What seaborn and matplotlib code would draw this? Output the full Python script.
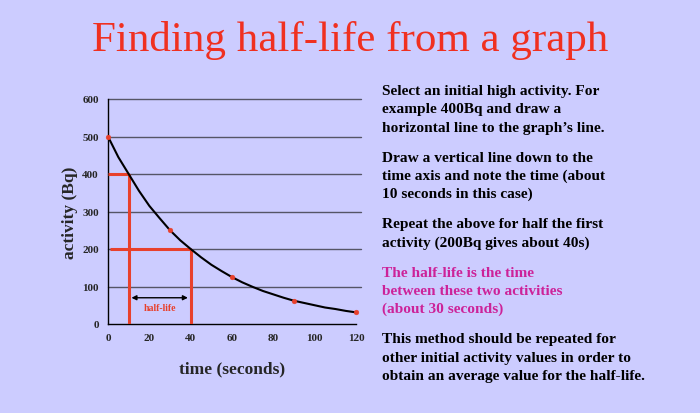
import matplotlib
matplotlib.use("Agg")
import matplotlib.pyplot as plt
import seaborn as sns
import pandas as pd

# data
time_s = [0, 5, 10, 15, 20, 25, 30, 35, 40, 45, 50, 55, 60, 65, 70, 75, 80,
          85, 90, 95, 100, 105, 110, 115, 120]
activity = [500, 445, 400, 355, 315, 282, 250, 223, 200, 178, 158, 141, 125,
            111, 99, 88, 79, 70, 62, 56, 50, 44, 40, 35, 31]
meas_time = [0, 30, 60, 90, 120]
meas_act = [500, 250, 125, 62.5, 31]
x_ticks = [0, 20, 40, 60, 80, 100, 120]
y_ticks = [0, 100, 200, 300, 400, 500, 600]
first_act, first_t = 400, 10
second_act, second_t = 200, 40

BG = "#CCCCFF"
RED = "#E8402C"
sns.set_style("white")
plt.rcParams['font.family'] = ['Liberation Serif', 'DejaVu Serif']

fig = plt.figure(figsize=(7, 4.14), dpi=100, facecolor=BG)
ax = fig.add_axes([108/700, 1-325/414, 248/700, 225/414])
ax.set_facecolor(BG)

df = pd.DataFrame({"t": time_s, "a": activity})
dm = pd.DataFrame({"t": meas_time, "a": meas_act})

for y in y_ticks[1:]:
    ax.axhline(y, xmax=1.02, color="#555566", lw=1, zorder=1, clip_on=False)

sns.lineplot(data=df, x="t", y="a", ax=ax, color="black", lw=1.5, zorder=4)
sns.scatterplot(data=dm, x="t", y="a", ax=ax, color=RED, s=12, marker="o",
                edgecolor=RED, zorder=5, clip_on=False)

# construction lines
kw = dict(color=RED, lw=2.2, zorder=3, solid_capstyle="butt")
ax.plot([0, first_t], [first_act, first_act], **kw)
ax.plot([first_t, first_t], [first_act, 0], **kw)
ax.plot([1, second_t], [second_act, second_act], **kw)
ax.plot([second_t, second_t], [second_act, 0], **kw)
ax.annotate("", xy=(second_t, 70), xytext=(first_t, 70),
            arrowprops=dict(arrowstyle="<|-|>", color="black", lw=1, mutation_scale=7), zorder=6)
ax.text((first_t + second_t) / 2, 43, "half-life", color=RED, fontsize=7,
        fontweight="bold", ha="center", va="center", zorder=6)

ax.set_xlim(0, 120)
ax.set_ylim(0, 600)
ax.set_xticks(x_ticks)
ax.set_yticks(y_ticks)
ax.tick_params(axis="both", labelsize=8, length=3, width=1, color="black")
for lab in ax.get_xticklabels() + ax.get_yticklabels():
    lab.set_fontweight("bold")
for s in ["top", "right"]:
    ax.spines[s].set_visible(False)
for s in ["left", "bottom"]:
    ax.spines[s].set_color("black")
    ax.spines[s].set_linewidth(1)
ax.set_xlabel("time (seconds)", fontsize=12.5, fontweight="bold", labelpad=13)
ax.set_ylabel("activity (Bq)", fontsize=12.5, fontweight="bold", labelpad=3)

fig.text(0.5, 1-40/414, "Finding half-life from a graph", color="#F03020",
         fontsize=31, ha="center", va="center")

paras = [
    (["Select an initial high activity. For", "example 400Bq and draw a",
      "horizontal line to the graph\u2019s line."], [95, 113, 132], "black"),
    (["Draw a vertical line down to the", "time axis and note the time (about",
      "10 seconds in this case)"], [162, 180, 198], "black"),
    (["Repeat the above for half the first", "activity (200Bq gives about 40s)"],
     [228, 247], "black"),
    (["The half-life is the time", "between these two activities",
      "(about 30 seconds)"], [277, 295, 313], "#CC2299"),
    (["This method should be repeated for", "other initial activity values in order to",
      "obtain an average value for the half-life."], [343, 362, 380], "black"),
]
for lines, ys, col in paras:
    for line, yb in zip(lines, ys):
        fig.text(382/700, 1-yb/414, line, color=col, fontsize=11.1, fontweight="bold",
                 ha="left", va="baseline")

fig.savefig("out.png", dpi=100, facecolor=BG)
